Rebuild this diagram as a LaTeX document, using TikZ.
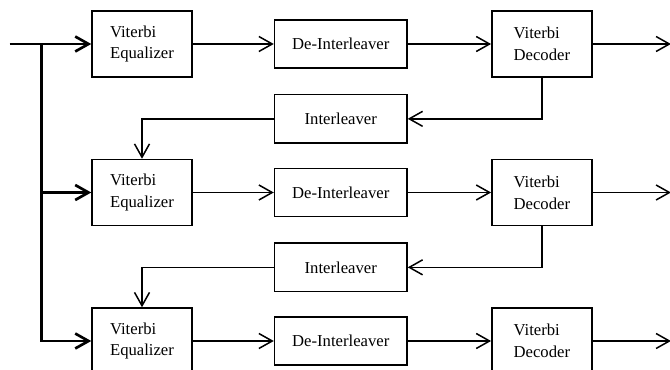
\documentclass[tikz,border=0pt]{standalone}
\usepackage{fontspec}
\setmainfont{Liberation Serif}
\usetikzlibrary{arrows.meta,positioning}

\begin{document}
\begin{tikzpicture}[
  node distance=15pt and 49pt,
  tall/.style={draw, line width=0.9pt, minimum width=60pt, minimum height=39.6pt,
    align=left, font=\fontsize{10}{13}\selectfont},
  flat/.style={draw, line width=0.9pt, minimum width=79.5pt, minimum height=29pt,
    align=center, font=\fontsize{10}{13}\selectfont},
  arr/.style={-{Straight Barb[length=8pt,width=9pt]}, line width=0.9pt},
  feed/.style={-{Straight Barb[length=8pt,width=9pt]}, line width=1.6pt}
]
  \useasboundingbox (0,0) rectangle (402pt,-222pt);
  % first row
  \node[tall] (equ1) at (85.2pt,-26.4pt) {Viterbi\\Equalizer};
  \node[flat, right=48.6pt of equ1] (deint1) {De-Interleaver};
  \node[tall, right=50pt of deint1] (dec1) {Viterbi\\Decoder};
  \node[flat, below=15pt of deint1] (int1) {Interleaver};
  % second row
  \node[tall, below=48.6pt of equ1] (equ2) {Viterbi\\Equalizer};
  \node[flat, right=48.6pt of equ2] (deint2) {De-Interleaver};
  \node[tall, right=50pt of deint2] (dec2) {Viterbi\\Decoder};
  \node[flat, below=15pt of deint2] (int2) {Interleaver};
  % third row
  \node[tall, below=48.6pt of equ2] (equ3) {Viterbi\\Equalizer};
  \node[flat, right=48.6pt of equ3] (deint3) {De-Interleaver};
  \node[tall, right=50pt of deint3] (dec3) {Viterbi\\Decoder};

  % input and trunk
  \coordinate[left=49pt of equ1] (in);
  \coordinate[left=30pt of equ1] (split);
  \foreach \r in {1,2,3} {
    \coordinate[right=47pt of dec\r] (out\r);
  }

  \draw[feed] (in) -- (equ1);
  \draw[feed] (split) |- (equ2);
  \draw[feed] (split) |- (equ3);

  \foreach \r in {1,2,3} {
    \draw[arr] (equ\r) -- (deint\r);
    \draw[arr] (deint\r) -- (dec\r);
    \draw[arr] (dec\r) -- (out\r);
  }

  % feedback loops
  \draw[arr] (dec1.south) |- (int1.east);
  \draw[arr] (int1.west) -| (equ2.north);
  \draw[arr] (dec2.south) |- (int2.east);
  \draw[arr] (int2.west) -| (equ3.north);
\end{tikzpicture}
\end{document}
